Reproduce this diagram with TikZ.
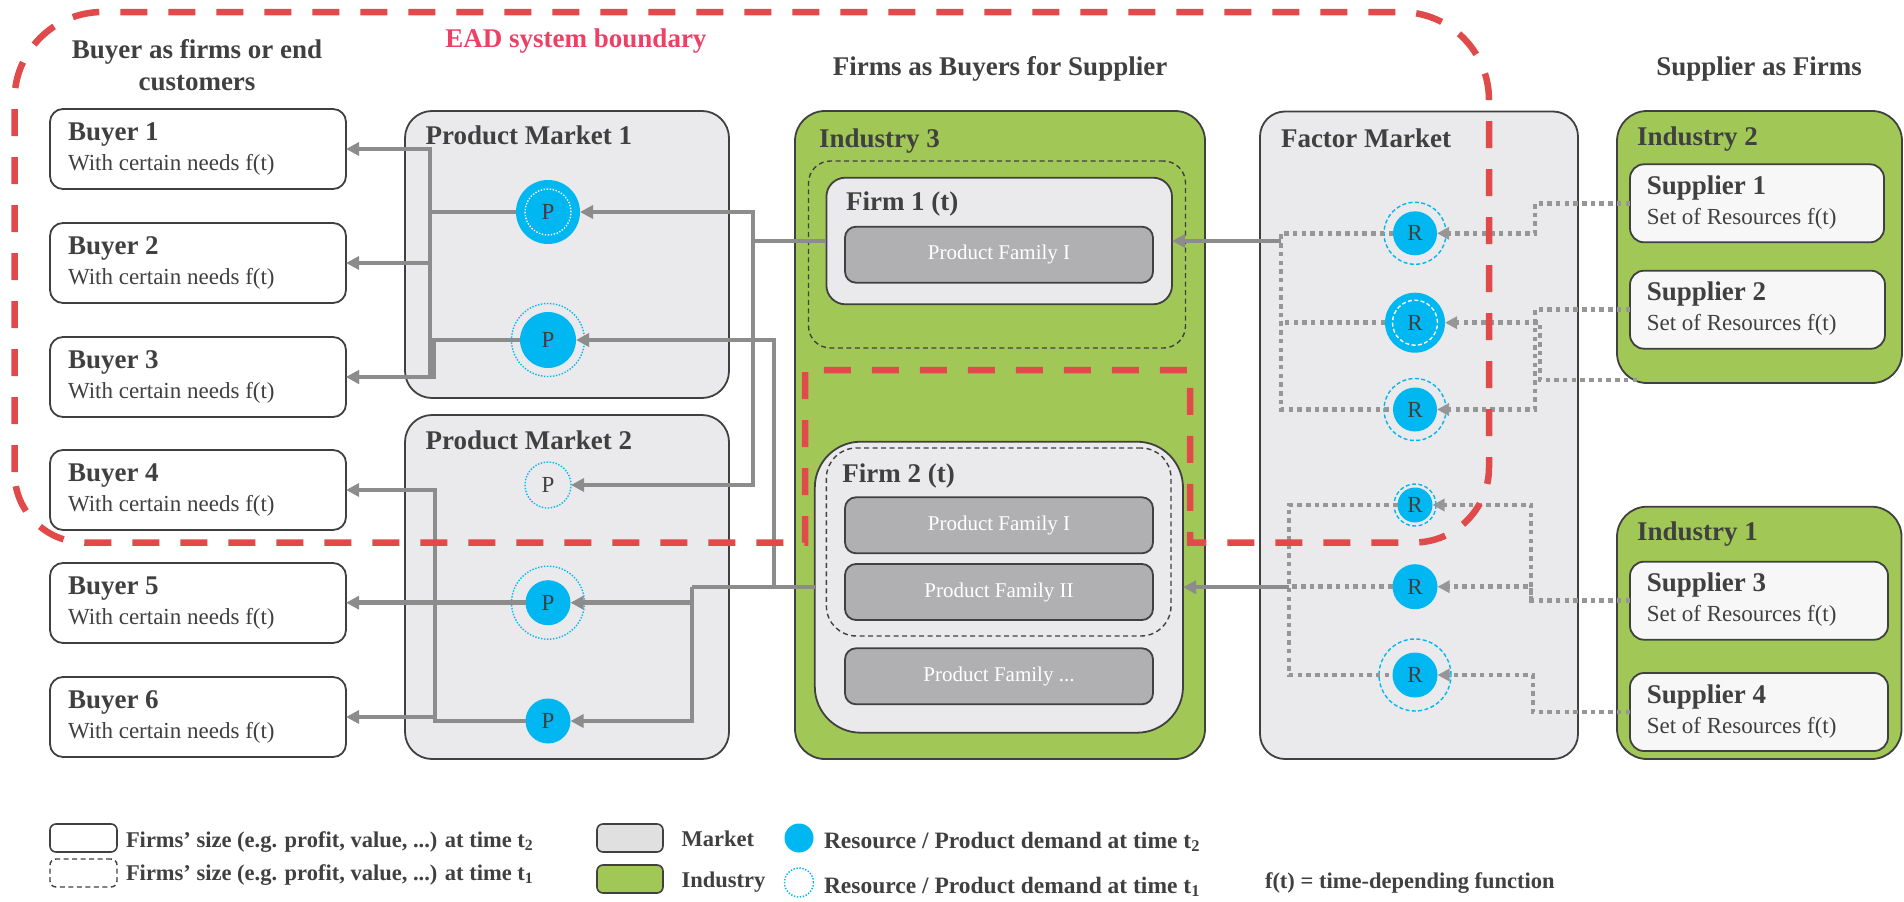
\documentclass[tikz,border=0pt]{standalone}
\usepackage{fontspec}
\setmainfont{Liberation Serif}
\usetikzlibrary{arrows.meta}

\definecolor{dgray}{RGB}{64,64,64}
\definecolor{mkt}{RGB}{234,234,236}
\definecolor{grn}{RGB}{161,200,86}
\definecolor{pfc}{RGB}{176,176,178}
\definecolor{supc}{RGB}{247,247,247}
\definecolor{cyn}{RGB}{0,183,241}
\definecolor{linc}{RGB}{140,140,140}
\definecolor{dotc}{RGB}{150,150,150}
\definecolor{eadc}{RGB}{224,74,74}
\definecolor{eadt}{RGB}{236,64,100}
\definecolor{lgmkt}{RGB}{224,224,224}

\begin{document}
\begin{tikzpicture}[x=1pt,y=-1pt,
  every node/.style={inner sep=0pt,outer sep=0pt},
  panel/.style={draw=dgray,line width=1.8pt,anchor=north west,rectangle},
  buyer/.style={panel,fill=white,rounded corners=13pt,minimum width=296pt,minimum height=80pt},
  market/.style={panel,fill=mkt,rounded corners=27pt,minimum width=324pt},
  industry/.style={panel,fill=grn,rounded corners=30pt},
  firm/.style={panel,fill=mkt},
  firmold/.style={draw=dgray,line width=1.4pt,dash pattern=on 5pt off 3.5pt,anchor=north west,rectangle},
  pfam/.style={panel,fill=pfc,rounded corners=11pt,minimum width=308pt,minimum height=56pt,text=white,font=\fontsize{21}{24}\selectfont},
  supplier/.style={panel,fill=supc,rounded corners=14pt,minimum height=78pt},
  ttl/.style={font=\fontsize{27}{32}\selectfont\bfseries,text=dgray,anchor=base west},
  subt/.style={font=\fontsize{23}{27}\selectfont,text=dgray,anchor=base west},
  hdr/.style={font=\fontsize{27}{32}\selectfont\bfseries,text=dgray,anchor=base,align=center},
  lgt/.style={font=\fontsize{22.5}{26}\selectfont\bfseries,text=dgray,anchor=base west},
  dem/.style={circle,fill=cyn,minimum size=#1,text=dgray,font=\fontsize{23}{27}\selectfont},
  dotring/.style={circle,draw=cyn,line width=1.4pt,dash pattern=on 1.4pt off 1.6pt,minimum size=#1},
  dashring/.style={circle,draw=cyn,line width=1.4pt,dash pattern=on 4pt off 2.4pt,minimum size=#1},
  wdotring/.style={circle,draw=white,line width=1.4pt,dash pattern=on 1.4pt off 1.6pt,minimum size=#1},
  wdashring/.style={circle,draw=white,line width=1.4pt,dash pattern=on 4pt off 2.4pt,minimum size=#1},
  pline/.style={draw=linc,line width=4.5pt},
  parr/.style={pline,-{Triangle[length=13pt,width=13pt]}},
  dline/.style={draw=dotc,line width=4.5pt,dash pattern=on 4.5pt off 4.2pt},
  darr/.style={dline,-{Triangle[length=12pt,width=12pt]}},
  ead/.style={draw=eadc,line width=6.5pt,dash pattern=on 27pt off 21pt}
]
\useasboundingbox (0,0) rectangle (1904,902);

% ---------- column headers ----------
\node[hdr] (hbuy) at (197,90) {Buyer as firms or end\\customers};
\node[hdr] (hfirm) at (1000,75) {Firms as Buyers for Supplier};
\node[hdr] (hsup) at (1759,75) {Supplier as Firms};

% ---------- buyers ----------
\foreach \i/\y in {1/109,2/223,3/337,4/450,5/563,6/677}{
  \node[buyer] (b\i) at (50,\y) {};
  \node[ttl] (b\i t) at (68,\y+31.5) {Buyer \i};
  \node[subt] (b\i s) at (68,\y+61) {With certain needs f(t)};
}

% ---------- product markets ----------
\node[market,minimum height=287pt] (pm1) at (405,111) {};
\node[ttl] (pm1t) at (425.6,144) {Product Market 1};
\node[market,minimum height=344pt] (pm2) at (405,415) {};
\node[ttl] (pm2t) at (425.6,449) {Product Market 2};

% ---------- industry 3 with its firms ----------
\node[industry,minimum width=410pt,minimum height=648pt] (ind3) at (795,111) {};
\node[ttl] (ind3t) at (819,147.7) {Industry 3};
\node[firmold,rounded corners=22pt,minimum width=377pt,minimum height=187pt] (f1o) at (808.5,161) {};
\node[firm,rounded corners=19pt,minimum width=345.6pt,minimum height=126.6pt] (f1) at (826.4,177.7) {};
\node[ttl] (f1t) at (846,210.7) {Firm 1 (t)};
\node[pfam] (f1a) at (845,226.7) {Product Family I};

\node[firm,rounded corners=46pt,minimum width=368.2pt,minimum height=291pt] (f2) at (814.8,441.7) {};
\node[firmold,rounded corners=30pt,minimum width=344.6pt,minimum height=188pt] (f2o) at (826.4,448) {};
\node[ttl] (f2t) at (842.4,482.7) {Firm 2 (t)};
\node[pfam] (f2a) at (845,497.3) {Product Family I};
\node[pfam] (f2b) at (845,564) {Product Family II};
\node[pfam] (f2c) at (845,648.3) {Product Family ...};

% ---------- factor market ----------
\node[market,rounded corners=25pt,minimum width=318pt,minimum height=647.5pt] (fm) at (1260,111.5) {};
\node[ttl] (fmt) at (1281,147.7) {Factor Market};

% ---------- supplying industries ----------
\node[industry,minimum width=285pt,minimum height=272pt] (ind2) at (1617,111) {};
\node[ttl] (ind2t) at (1637,145) {Industry 2};
\node[industry,minimum width=284.5pt,minimum height=252.3pt] (ind1) at (1617,506.7) {};
\node[ttl] (ind1t) at (1637,540) {Industry 1};
\foreach \i/\y/\w in {1/164.3/254,2/270.7/255,3/561.7/258,4/673/258}{
  \node[supplier,minimum width=\w pt] (s\i) at (1630,\y) {};
  \node[ttl] (s\i t) at (1646.8,\y+30) {Supplier \i};
  \node[subt] (s\i s) at (1646.8,\y+60) {Set of Resources f(t)};
}

% ---------- product demand ----------
\node[dem=64pt] (p1) at (548,212) {P};
\node[wdotring=46pt] (p1i) at (548,212) {};
\node[dotring=73pt] (p2o) at (548,340) {};
\node[dem=56pt] (p2) at (548,340) {P};
\node[dotring=46pt,text=dgray,font=\fontsize{23}{27}\selectfont] (q1) at (548,485) {P};
\node[dotring=73pt] (q2o) at (548,602.7) {};
\node[dem=45pt] (q2) at (548,602.7) {P};
\node[dem=45pt] (q3) at (548,721) {P};

% ---------- resource demand ----------
\node[dashring=62pt] (r1o) at (1415,233.3) {};
\node[dem=44pt] (r1) at (1415,233.3) {R};
\node[dem=60pt] (r2) at (1415,322.7) {R};
\node[wdashring=45pt] (r2i) at (1415,322.7) {};
\node[dashring=62pt] (r3o) at (1415,409.5) {};
\node[dem=44pt] (r3) at (1415,409.5) {R};
\node[dashring=42pt] (r4o) at (1415,505) {};
\node[dem=35pt] (r4) at (1415,505) {R};
\node[dem=45pt] (r5) at (1415,586.7) {R};
\node[dashring=72pt] (r6o) at (1415,675) {};
\node[dem=45pt] (r6) at (1415,675) {R};

% ---------- bus lines ----------
\coordinate (xa) at (430,0);
\coordinate (xb) at (434,0);
\coordinate (xc) at (435,0);
\coordinate (xd) at (753,0);
\coordinate (xe) at (774,0);
\coordinate (xf) at (692,0);
\coordinate (xg) at (1281,0);
\coordinate (xh) at (1289,0);
\coordinate (xi) at (1535,0);
\coordinate (xj) at (1540,0);
\coordinate (xk) at (1531,0);
\coordinate (xl) at (1533,0);
\coordinate (i2end) at (1637,380);

% product markets to buyers
\draw[parr] (p1.west) -- (p1.west -| xa) |- (b1.east);
\draw[parr] (p1.west -| xa) |- (b2.east);
\draw[parr] (p1.west -| xa) |- (b3.east);
\draw[parr] (p2.west) -- (p2.west -| xb) |- (b3.east);
\draw[parr] (q2.west) -- (q2.west -| b5.east);
\draw[parr] (q3.west) -- (q3.west -| xc) |- (b4.east);
\draw[parr] (q3.west -| xc) |- (b6.east);

% firms to product markets
\draw[parr] (f1.west) -- (f1.west -| xd) |- (p1.east);
\draw[parr] (f1.west -| xd) |- (q1.east);
\draw[parr] (f2.west) -- (f2.west -| xe) |- (p2.east);
\draw[pline] (f2.west -| xe) -- (f2.west -| xf);
\draw[parr] (f2.west -| xf) |- (q2.east);
\draw[parr] (f2.west -| xf) |- (q3.east);

% factor market to firms
\draw[dline] (r1.west) -- (r1.west -| xg) -- (r3.west -| xg) -- (r3.west);
\draw[dline] (r2.west) -- (r2.west -| xg);
\draw[parr] (f1.east -| xg) -- (f1.east);
\draw[dline] (r4.west) -- (r4.west -| xh) -- (r6.west -| xh) -- (r6.west);
\draw[dline] (r5.west) -- (r5.west -| xh);
\draw[parr] (f2.east -| xh) -- (f2.east);

% suppliers to factor market
\draw[darr] (s1.west) -- (s1.west -| xi) |- (r1.east);
\draw[darr] (s2.west) -- (s2.west -| xi) |- (r3.east);
\draw[darr] (i2end) -- (i2end -| xj) |- (r2.east);
\draw[darr] (s3.west) -- (s3.west -| xk) |- (r4.east);
\draw[darr] (s3.west -| xk) |- (r5.east);
\draw[darr] (s4.west) -- (s4.west -| xl) |- (r6.east);

% ---------- EAD system boundary ----------
\draw[ead] (14.5,472) -- (14.5,100) arc[start angle=180,end angle=270,radius=88]
  -- (1401,12) arc[start angle=270,end angle=360,radius=88]
  -- (1489,467.5) arc[start angle=0,end angle=90,radius=75]
  -- (1190,542.5) -- (1190,370) -- (805,370) -- (805,542.5)
  -- (84.5,542.5) arc[start angle=90,end angle=180,radius=70] -- cycle;
\node[font=\fontsize{27}{32}\selectfont\bfseries,text=eadt,anchor=base] (eadl) at (576,47) {EAD system boundary};

% ---------- legend ----------
\node[panel,line width=1.6pt,fill=white,rounded corners=6pt,minimum width=67pt,minimum height=28pt] (lga) at (50,824) {};
\node[lgt] (lgat) at (126,847) {Firms’ size (e.g. profit, value, ...) at time t\textsubscript{2}};
\node[firmold,rounded corners=6pt,minimum width=67pt,minimum height=28pt] (lgb) at (50,859) {};
\node[lgt] (lgbt) at (126,880) {Firms’ size (e.g. profit, value, ...) at time t\textsubscript{1}};
\node[panel,line width=1.6pt,fill=lgmkt,rounded corners=6pt,minimum width=66pt,minimum height=28pt] (lgm) at (597,824) {};
\node[lgt] (lgmt) at (681.6,846) {Market};
\node[panel,line width=1.6pt,fill=grn,rounded corners=6pt,minimum width=66pt,minimum height=28pt] (lgi) at (597,865) {};
\node[lgt] (lgit) at (681.6,887) {Industry};
\node[circle,fill=cyn,minimum size=29pt] (lgc) at (799,838) {};
\node[lgt,font=\fontsize{23.5}{27}\selectfont\bfseries] (lgct) at (824,848) {Resource / Product demand at time t\textsubscript{2}};
\node[dotring=29pt] (lgd) at (799,882.5) {};
\node[lgt,font=\fontsize{23.5}{27}\selectfont\bfseries] (lgdt) at (824,893) {Resource / Product demand at time t\textsubscript{1}};
\node[lgt] (lgf) at (1265,888) {f(t) = time-depending function};
\end{tikzpicture}
\end{document}
